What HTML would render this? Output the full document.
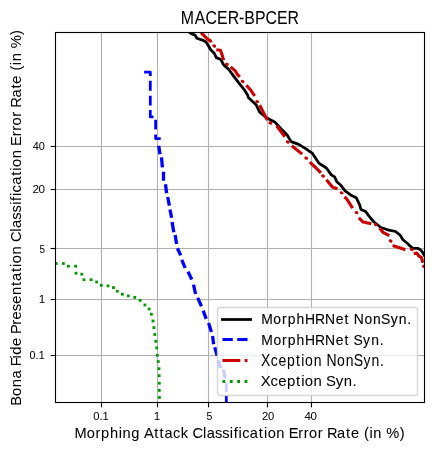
<!DOCTYPE html>
<html lang="en">
<head>
<meta charset="utf-8">
<title>MACER-BPCER</title>
<style>
html,body{margin:0;padding:0;background:#fff;}
body{width:434px;height:451px;overflow:hidden;font-family:"Liberation Sans",sans-serif;}
svg{display:block;will-change:transform;}
text{font-family:"Liberation Sans",sans-serif;fill:#000;}
.grid line{stroke:#b0b0b0;stroke-width:1.11;}
.spine{fill:none;stroke:#000;stroke-width:1.11;stroke-linecap:square;}
.tick line{stroke:#000;stroke-width:1.11;}
.crv{fill:none;stroke-width:2.78;stroke-linejoin:round;stroke-linecap:butt;}
</style>
</head>
<body>
<svg width="434" height="451" viewBox="0 0 434 451">
<rect x="0" y="0" width="434" height="451" fill="#ffffff"/>
<defs><clipPath id="ax"><rect x="55.5" y="32.5" width="369.0" height="370.0"/></clipPath></defs>

<g class="grid">
<line x1="101.5" y1="32.5" x2="101.5" y2="402.5"/>
<line x1="157.5" y1="32.5" x2="157.5" y2="402.5"/>
<line x1="208.5" y1="32.5" x2="208.5" y2="402.5"/>
<line x1="267.5" y1="32.5" x2="267.5" y2="402.5"/>
<line x1="311.5" y1="32.5" x2="311.5" y2="402.5"/>
<line x1="55.5" y1="146.5" x2="424.5" y2="146.5"/>
<line x1="55.5" y1="189.5" x2="424.5" y2="189.5"/>
<line x1="55.5" y1="248.5" x2="424.5" y2="248.5"/>
<line x1="55.5" y1="299.5" x2="424.5" y2="299.5"/>
<line x1="55.5" y1="355.5" x2="424.5" y2="355.5"/>
</g>
<g clip-path="url(#ax)">
<polyline class="crv" stroke="#000000" stroke-width="3.7" points="187.5,31.0 191.4,33.7 195.1,35.1 196.9,38.3 202.4,40.1 206.1,42.0 208.4,45.7 210.7,49.8 214.4,53.5 216.3,57.6 220.9,59.5 222.7,63.2 223.7,64.9 228.8,69.5 232.9,75.1 238.4,82.4 244.0,89.3 247.6,94.9 248.3,97.5 256.3,105.1 259.7,112.2 266.9,118.1 275.2,122.3 280.7,128.5 287.0,134.7 291.1,141.6 298.7,144.4 305.6,148.6 312.5,153.4 313.3,154.8 318.8,163.1 326.4,168.0 331.3,174.9 334.7,177.0 336.8,181.8 340.9,185.3 345.1,190.8 350.6,194.9 356.2,197.7 359.6,204.6 360.9,209.5 365.7,211.6 369.2,216.4 374.0,222.0 380.9,227.5 387.7,229.8 395.6,231.5 400.0,235.0 403.0,239.7 407.5,243.5 410.2,246.2 413.0,248.3 417.8,248.3 421.3,250.4 423.0,253.1 425.0,256.5"/>
<g class="crv" stroke="#0000ff">
<polyline points="144.1,72.2 150.3,72.2 150.3,75.9"/>
<polyline points="150.3,80.7 150.3,90.7"/>
<polyline points="150.3,95.7 150.3,105.6"/>
<polyline points="150.3,110.0 150.3,116.9 153.5,116.9"/>
<polyline points="155.6,119.7 155.6,129.4"/>
<polyline points="155.6,134.6 155.6,138.6 160.7,138.6"/>
<polyline stroke-width="3.3" points="158.7,145.7 160.0,154.2"/>
<polyline stroke-width="3.3" points="161.5,157.3 162.4,167.3"/>
<polyline stroke-width="3.3" points="163.5,171.8 163.5,180.7"/>
<polyline stroke-width="3.3" points="165.5,184.2 166.6,193.2"/>
<polyline stroke-width="3.3" points="167.7,197.0 169.4,205.6"/>
<polyline stroke-width="3.3" points="170.0,209.5 171.6,217.8"/>
<polyline stroke-width="3.3" points="172.1,221.9 173.8,232.3"/>
<polyline stroke-width="3.3" points="175.2,235.0 176.5,244.0"/>
<polyline stroke-width="3.3" points="177.4,248.2 180.7,255.4"/>
<polyline stroke-width="3.3" points="181.8,259.9 185.1,268.0"/>
<polyline stroke-width="3.3" points="188.0,271.6 191.8,279.5"/>
<polyline stroke-width="3.3" points="193.5,284.6 195.6,294.0"/>
<polyline stroke-width="3.3" points="197.7,297.9 201.5,306.2"/>
<polyline stroke-width="3.3" points="203.2,310.6 206.2,318.9"/>
<polyline stroke-width="3.3" points="208.6,323.0 211.4,332.0"/>
<polyline stroke-width="3.3" points="212.6,336.0 213.6,344.3"/>
<polyline stroke-width="3.3" points="214.8,347.2 217.2,355.9"/>
<polyline stroke-width="3.3" points="218.7,360.2 219.7,366.7 222.3,366.7"/>
<polyline stroke-width="3.3" points="223.4,369.5 225.2,378.2"/>
<polyline points="226.3,383.2 226.3,391.9"/>
<polyline points="226.3,395.5 226.3,402.0"/>
</g>
<g class="crv" stroke="#cc0000">
<polyline stroke-width="3.1" points="200.6,31.0 202.4,34.1 205.2,36.9 207.5,39.2 210.3,40.6 211.2,42.4"/>
<polyline stroke-width="3.1" points="216.3,49.8 220.4,50.3 221.8,54.0 223.2,58.6 223.5,60.2"/>
<polyline stroke-width="3.1" points="230.6,66.8 235.2,70.9 237.5,74.6 239.8,76.9"/>
<polyline stroke-width="3.1" points="246.3,85.2 250.9,90.3 254.7,96.0"/>
<polyline stroke-width="3.1" points="259.7,105.1 266.4,118.5 267.5,120.0"/>
<polyline stroke-width="3.1" points="276.6,125.7 284.9,136.8"/>
<polyline stroke-width="3.1" points="291.8,145.8 302.2,154.1"/>
<polyline stroke-width="3.1" points="309.8,162.2 316.1,168.0 320.9,172.8"/>
<polyline stroke-width="3.1" points="326.4,179.7 329.9,183.9 332.7,187.3 337.5,188.7"/>
<polyline stroke-width="3.1" points="344.4,197.0 346.4,198.5 352.6,208.1"/>
<polyline stroke-width="3.1" points="358.8,217.8 363.0,222.0 371.3,223.8"/>
<polyline stroke-width="3.1" points="379.6,228.2 383.0,232.3 389.3,235.7"/>
<polyline stroke-width="3.1" points="392.6,245.5 405.4,249.8"/>
<polyline stroke-width="3.1" points="413.7,253.8 416.8,253.1 418.9,256.2 421.3,257.3 422.3,260.7 423.0,262.8"/>
</g>
<g fill="#cc0000">
<ellipse cx="214.2" cy="46.0" rx="1.95" ry="1.55" transform="rotate(20 214.2 46.0)"/>
<ellipse cx="226.9" cy="64.3" rx="1.95" ry="1.55" transform="rotate(20 226.9 64.3)"/>
<ellipse cx="242.6" cy="81.5" rx="1.95" ry="1.55" transform="rotate(20 242.6 81.5)"/>
<ellipse cx="257.2" cy="101.6" rx="1.95" ry="1.55" transform="rotate(20 257.2 101.6)"/>
<ellipse cx="270.4" cy="123.0" rx="1.95" ry="1.55" transform="rotate(20 270.4 123.0)"/>
<ellipse cx="287.7" cy="142.0" rx="1.95" ry="1.55" transform="rotate(20 287.7 142.0)"/>
<ellipse cx="306.2" cy="158.2" rx="1.95" ry="1.55" transform="rotate(20 306.2 158.2)"/>
<ellipse cx="323.0" cy="176.0" rx="1.95" ry="1.55" transform="rotate(20 323.0 176.0)"/>
<ellipse cx="341.6" cy="192.9" rx="1.95" ry="1.55" transform="rotate(20 341.6 192.9)"/>
<ellipse cx="356.5" cy="212.6" rx="1.95" ry="1.55" transform="rotate(20 356.5 212.6)"/>
<ellipse cx="375.7" cy="224.7" rx="1.95" ry="1.55" transform="rotate(20 375.7 224.7)"/>
<ellipse cx="390.6" cy="241.0" rx="1.95" ry="1.55" transform="rotate(20 390.6 241.0)"/>
<ellipse cx="411.7" cy="249.5" rx="1.95" ry="1.55" transform="rotate(20 411.7 249.5)"/>
<ellipse cx="423.9" cy="266.5" rx="1.95" ry="1.55" transform="rotate(20 423.9 266.5)"/>
</g>
<g fill="#009900">
<rect x="54.8" y="262.1" width="2.8" height="2.8"/>
<rect x="62.0" y="262.1" width="2.8" height="2.8"/>
<rect x="67.0" y="264.8" width="2.8" height="2.8"/>
<rect x="74.2" y="264.8" width="2.8" height="2.8"/>
<rect x="74.6" y="271.8" width="2.8" height="2.8"/>
<rect x="80.4" y="272.8" width="2.8" height="2.8"/>
<rect x="82.5" y="278.3" width="2.8" height="2.8"/>
<rect x="89.7" y="278.3" width="2.8" height="2.8"/>
<rect x="95.2" y="280.6" width="2.8" height="2.8"/>
<rect x="99.8" y="283.9" width="2.8" height="2.8"/>
<rect x="106.6" y="284.5" width="2.8" height="2.8"/>
<rect x="112.1" y="286.2" width="2.8" height="2.8"/>
<rect x="115.9" y="289.8" width="2.8" height="2.8"/>
<rect x="121.0" y="292.8" width="2.8" height="2.8"/>
<rect x="126.9" y="294.5" width="2.8" height="2.8"/>
<rect x="133.4" y="296.0" width="2.8" height="2.8"/>
<rect x="138.7" y="299.0" width="2.8" height="2.8"/>
<rect x="143.5" y="303.6" width="2.8" height="2.8"/>
<rect x="147.7" y="307.6" width="2.8" height="2.8"/>
<rect x="150.0" y="312.8" width="2.8" height="2.8"/>
<rect x="151.6" y="319.6" width="2.8" height="2.8"/>
<rect x="152.5" y="326.2" width="2.8" height="2.8"/>
<rect x="153.4" y="333.1" width="2.8" height="2.8"/>
<rect x="154.4" y="339.9" width="2.8" height="2.8"/>
<rect x="155.3" y="346.5" width="2.8" height="2.8"/>
<rect x="155.9" y="353.9" width="2.8" height="2.8"/>
<rect x="156.8" y="360.1" width="2.8" height="2.8"/>
<rect x="157.6" y="367.3" width="2.8" height="2.8"/>
<rect x="157.8" y="374.3" width="2.8" height="2.8"/>
<rect x="157.9" y="381.8" width="2.8" height="2.8"/>
<rect x="157.9" y="389.0" width="2.8" height="2.8"/>
<rect x="158.0" y="396.1" width="2.8" height="2.8"/>
</g>
</g>
<rect class="spine" x="55.5" y="32.5" width="369.0" height="370.0"/>
<g class="tick">
<line x1="101.5" y1="402.5" x2="101.5" y2="407.36"/>
<line x1="157.5" y1="402.5" x2="157.5" y2="407.36"/>
<line x1="208.5" y1="402.5" x2="208.5" y2="407.36"/>
<line x1="267.5" y1="402.5" x2="267.5" y2="407.36"/>
<line x1="311.5" y1="402.5" x2="311.5" y2="407.36"/>
<line x1="55.5" y1="146.5" x2="50.64" y2="146.5"/>
<line x1="55.5" y1="189.5" x2="50.64" y2="189.5"/>
<line x1="55.5" y1="248.5" x2="50.64" y2="248.5"/>
<line x1="55.5" y1="299.5" x2="50.64" y2="299.5"/>
<line x1="55.5" y1="355.5" x2="50.64" y2="355.5"/>
</g>
<text id="xt0.1" transform="translate(93.30 420.46) scale(0.9760 1)" font-size="11.52" stroke="#000" stroke-width="0.006" x="-0.02 6.34 9.51" y="0">0.1</text>
<text id="xt1" transform="translate(154.02 420.15) scale(1.1700 1)" font-size="10.00" stroke="#000" stroke-width="0.001" x="-0.13" y="0">1</text>
<text id="xt5" transform="translate(206.43 420.45) scale(0.9880 1)" font-size="10.69" stroke="#000" stroke-width="0.011" x="0.17" y="0">5</text>
<text id="xt20" transform="translate(261.88 420.48) scale(1.0220 1)" font-size="10.93" stroke="#000" stroke-width="0.019" x="-0.01 6.06" y="0">20</text>
<text id="xt40" transform="translate(304.50 420.42) scale(1.0760 1)" font-size="10.72" stroke="#000" stroke-width="0.023" x="-0.10 5.67" y="0">40</text>
<text id="yt40" transform="translate(32.59 150.06) scale(1.0250 1)" font-size="10.68" stroke="#000" stroke-width="0.038" x="0.06 6.11" y="0">40</text>
<text id="yt20" transform="translate(32.59 193.25) scale(1.1760 1)" font-size="10.02" stroke="#000" stroke-width="0.003" x="-0.15 5.12" y="0">20</text>
<text id="yt5" transform="translate(39.27 253.44) scale(0.9790 1)" font-size="10.08" stroke="#000" stroke-width="0.009" x="0.36" y="0">5</text>
<text id="yt1" transform="translate(39.02 303.15) scale(1.1700 1)" font-size="10.00" stroke="#000" stroke-width="0.001" x="-0.13" y="0">1</text>
<text id="yt0.1" transform="translate(29.34 359.39) scale(0.9660 1)" font-size="11.06" stroke="#000" stroke-width="0.047" x="0.13 6.49 9.76" y="0">0.1</text>
<text id="title" transform="translate(180.08 24.18) scale(0.8690 1)" font-size="18.27" stroke="#000" stroke-width="0.033" x="0.64 16.96 29.39 42.61 54.80 67.73 73.98 86.31 98.25 111.48 123.67" y="0">MACER-BPCER</text>
<text id="xlabel" transform="translate(74.61 438.43) scale(1.0450 1)" font-size="14.00" stroke="#000" stroke-width="0.040" x="-0.10 11.62 19.98 25.36 33.78 42.17 45.89 54.31 62.58 66.51 76.14 81.34 86.07 94.18 101.67 109.18 112.82 122.80 126.37 134.29 141.21 148.46 152.25 156.82 160.37 167.69 176.31 181.15 184.72 192.99 201.25 204.84 214.10 219.32 224.31 232.66 237.89 241.50 251.10 259.72 264.46 272.60 276.92 282.13 285.84 294.11 298.25 311.04" y="0">Morphing Attack Classification Error Rate (in %)</text>
<g transform="translate(21 217.5) rotate(-90)"><text id="ylabel" transform="translate(-188.02 0.32) scale(1.0450 1)" font-size="14.13" stroke="#000" stroke-width="0.044" x="-0.16 9.24 17.51 25.79 33.93 37.51 44.96 48.66 56.96 65.12 68.48 77.33 82.33 90.27 97.42 105.71 114.49 119.19 127.83 132.67 136.22 144.49 152.77 156.38 166.39 169.94 177.87 184.78 192.05 195.84 200.41 203.94 211.27 219.90 224.74 228.29 236.56 244.84 248.40 257.68 262.90 267.88 276.25 281.48 285.06 294.67 303.31 308.03 316.19 320.50 325.72 329.41 337.70 341.80 354.63" y="0">Bona Fide Presentation Classification Error Rate (in %)</text></g>
<path d="M220.28,307.5 L414.72,307.5 Q417.5,307.5 417.5,310.28 L417.5,392.72 Q417.5,395.5 414.72,395.5 L220.28,395.5 Q217.5,395.5 217.5,392.72 L217.5,310.28 Q217.5,307.5 220.28,307.5 Z" fill="#ffffff" fill-opacity="0.8" stroke="#cccccc" stroke-opacity="0.8" stroke-width="1.39"/>
<line x1="221.1" y1="319.5" x2="251.9" y2="319.5" stroke="#000000" stroke-width="2.78"/>
<line x1="222.5" y1="339.5" x2="250.3" y2="339.5" stroke="#0000ff" stroke-width="2.78" stroke-dasharray="10.28 4.44"/>
<line x1="222.5" y1="360.5" x2="250.3" y2="360.5" stroke="#cc0000" stroke-width="2.78" stroke-dasharray="17.78 4.44 2.78 4.44"/>
<line x1="222.5" y1="381.5" x2="250.3" y2="381.5" stroke="#009900" stroke-width="2.78" stroke-dasharray="2.78 4.58"/>
<text id="leg0" transform="translate(261.03 324.03) scale(0.9610 1)" font-size="14.49" stroke="#000" stroke-width="0.114" x="0.19 12.84 21.85 27.78 36.94 45.74 56.18 66.60 77.64 86.93 92.06 96.53 107.55 116.54 124.90 134.96 143.40 152.29" y="0">MorphHRNet NonSyn.</text>
<text id="leg1" transform="translate(261.06 345.26) scale(0.9540 1)" font-size="14.57" stroke="#000" stroke-width="0.093" x="0.20 12.95 22.01 27.99 37.21 46.08 56.60 67.10 78.22 87.57 92.74 96.83 106.96 115.47 124.42" y="0">MorphHRNet Syn.</text>
<text id="leg2" transform="translate(260.88 366.30) scale(0.8800 1)" font-size="15.91" stroke="#000" stroke-width="0.018" x="0.09 11.16 19.90 29.75 40.06 45.78 50.14 59.96 69.68 74.55 86.59 96.41 105.52 116.52 125.74 135.45" y="0">Xception NonSyn.</text>
<text id="leg3" transform="translate(260.99 386.18) scale(1.0120 1)" font-size="14.74" stroke="#000" stroke-width="0.035" x="-0.22 9.48 17.05 25.62 34.71 39.71 43.35 51.89 60.46 64.13 73.76 81.75 90.33" y="0">Xception Syn.</text>
</svg>
</body>
</html>
